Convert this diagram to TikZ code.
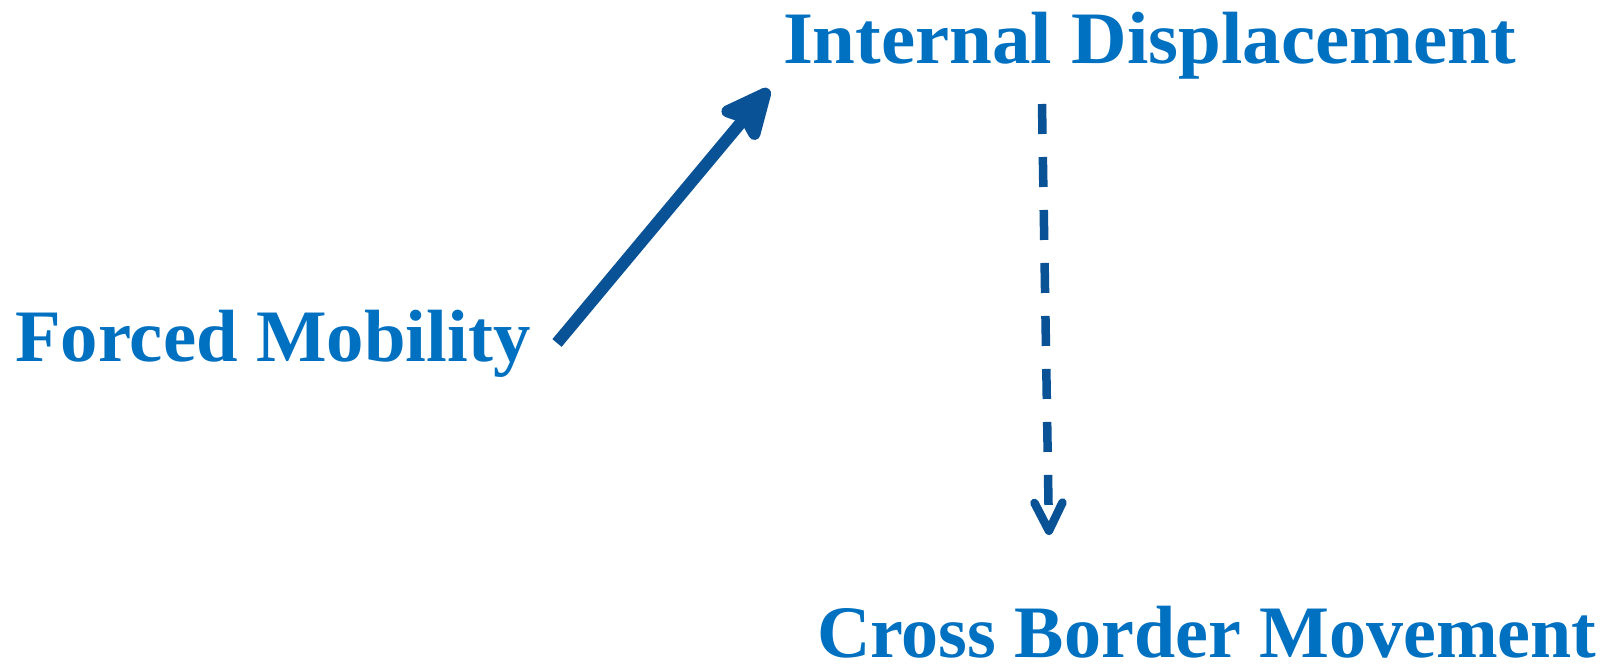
\documentclass[tikz,border=0pt]{standalone}
\usepackage{fontspec}
\setmainfont{Liberation Serif}
\usetikzlibrary{arrows.meta}
\definecolor{txtblue}{RGB}{0,112,192}
\definecolor{arrblue}{RGB}{10,82,150}
\tikzset{
  lbl/.style={anchor=base west, inner sep=0pt, outer sep=0pt, text=txtblue, font=\fontsize{74}{80}\selectfont\bfseries},
  solidarr/.style={draw=arrblue, line width=12pt, -{Stealth[length=62pt,width=56pt,inset=10pt,round]}},
  dasharr/.style={draw=arrblue, line width=8.5pt, dash pattern=on 30pt off 23pt, -{Straight Barb[length=28pt,width=28pt,round]}}
}
\begin{document}
\begin{tikzpicture}[x=1pt,y=-1pt]
\useasboundingbox (0,0) rectangle (1612,668);
\node[lbl] (fm) at (15,361) {\scalebox{1.01}[1]{Forced Mobility}};
\node[lbl] (id) at (783,64) {\scalebox{1.04}[1]{Internal Displacement}};
\node[lbl] (cb) at (817,657) {\scalebox{1.0}[1]{Cross Border Movement}};
\coordinate (s1) at (557,343);
\coordinate (t1) at (769,89);
\coordinate (s2) at (1042,104);
\coordinate (t2) at (1049,535);
\draw[solidarr] (s1) -- (t1);
\draw[dasharr] (s2) -- (t2);
\end{tikzpicture}
\end{document}
